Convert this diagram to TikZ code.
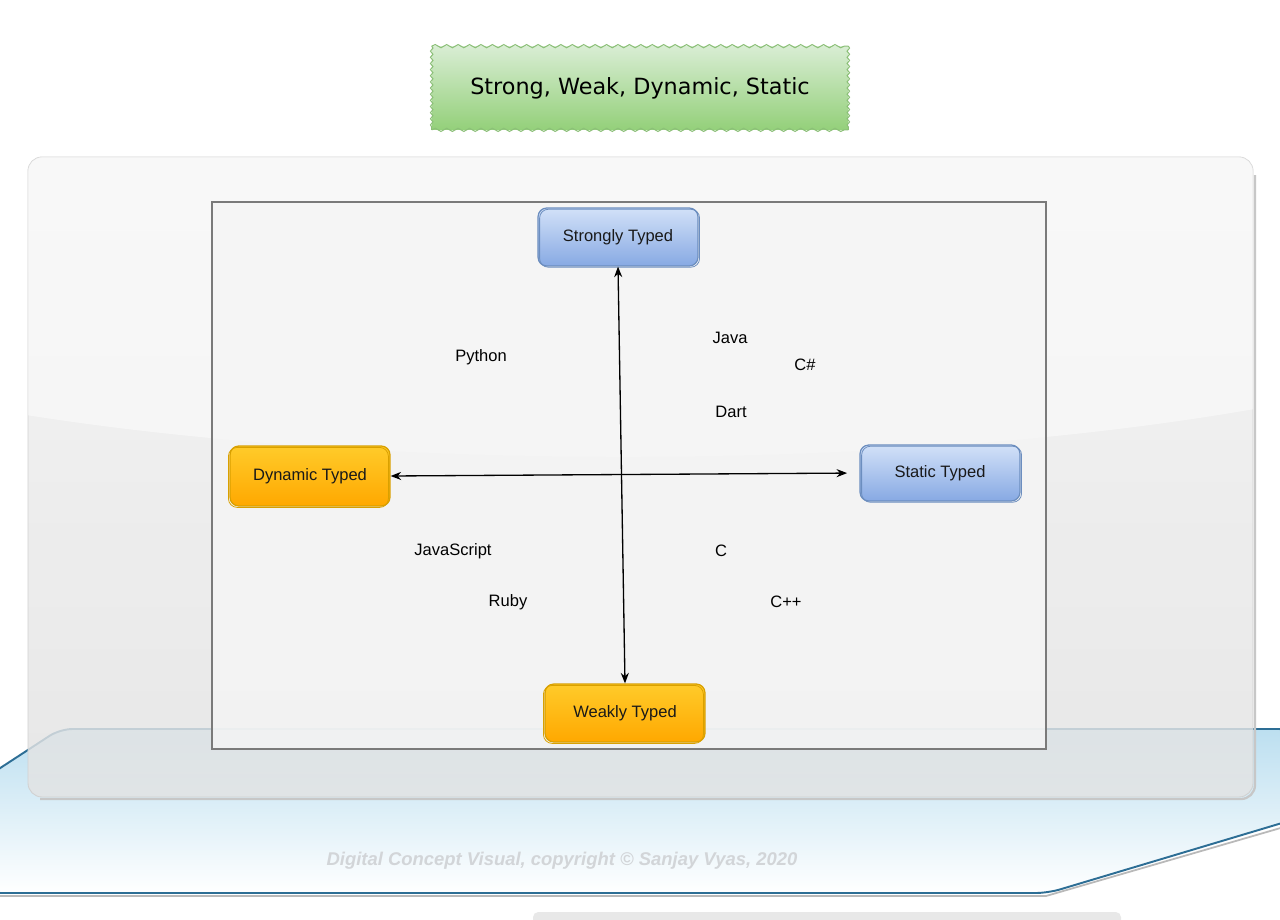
\documentclass[tikz,border=0pt]{standalone}
\usepackage{fontspec}
\setmainfont{Liberation Sans}
\newfontfamily\titlefont{DejaVu Sans}
\usetikzlibrary{arrows.meta,decorations.pathmorphing}
\definecolor{bT}{HTML}{D2E1F8}
\definecolor{bB}{HTML}{87A9E3}
\definecolor{bD}{HTML}{6C8EBF}
\definecolor{oT}{HTML}{FFCB2A}
\definecolor{oB}{HTML}{FFA800}
\definecolor{oD}{HTML}{D9A000}
\definecolor{gT}{HTML}{D8EDD3}
\definecolor{gB}{HTML}{94D07A}
\definecolor{gD}{HTML}{8CC078}
\definecolor{floorT}{HTML}{BCDFF0}
\definecolor{floorD}{HTML}{2D6E95}
\definecolor{copyc}{HTML}{D2D5D8}
\tikzset{
  box/.style={rounded corners=5pt, minimum width=3.2cm, minimum height=1.16cm,
    font=\fontsize{9.4}{11}\selectfont, line width=0.7pt, text=black!90},
  bluebox/.style={box, top color=bT, bottom color=bB, draw=bD,
    postaction={draw=bD, line width=0.45pt, transform canvas={shift={(0.9pt,-0.7pt)}}}},
  orangebox/.style={box, top color=oT, bottom color=oB, draw=oD,
    postaction={draw=oD, line width=0.45pt, transform canvas={shift={(-0.9pt,-0.8pt)}}}},
  lang/.style={font=\fontsize{9.4}{11}\selectfont, text=black},
  axis/.style={line width=0.75pt, {Stealth[length=6pt,width=4.6pt]}-{Stealth[length=6pt,width=4.6pt]}},
  wavyh/.style={draw=gD, line width=0.6pt, decorate, decoration={snake, segment length=6.5pt, amplitude=0.9pt}},
  wavyv/.style={draw=gD, line width=0.6pt, decorate, decoration={snake, segment length=3.5pt, amplitude=0.7pt}},
}
\begin{document}
\begin{tikzpicture}[x=0.02cm,y=-0.02cm]
\useasboundingbox (0,0) rectangle (1280,919);
\fill[white] (0,0) rectangle (1280,919);
% floor
\draw[gray!55, line width=1pt] (0,896) -- (1046,896) -- (1284,827);
\shade[top color=floorT, bottom color=white, draw=floorD, line width=1.1pt, rounded corners=7pt]
  (-12,776) -- (60,729) -- (1292,729) -- (1292,820) -- (1048,893) -- (-12,893) -- cycle;
% panel shadow
\draw[black!22, line width=1.3pt, rounded corners=8pt] (1255,175) -- (1255,799) -- (40,799);
% panel
\shade[top color=black!5, bottom color=black!11, fill opacity=0.82, draw=black!18, line width=0.5pt, rounded corners=8pt]
  (28,157) rectangle (1253,797);
\begin{scope}
\clip[rounded corners=8pt] (28,157) rectangle (1253,797);
\fill[white, opacity=0.45] (20,150) -- (1260,150) -- (1260,408) .. controls (900,472) and (380,472) .. (20,414) -- cycle;
\end{scope}
% inner frame
\filldraw[fill=black!4, fill opacity=0.82, draw=black!52, line width=1.1pt] (212,202) rectangle (1046,749);
% title
\node[top color=gT, bottom color=gB, minimum width=8.32cm, minimum height=1.66cm,
  font=\titlefont\fontsize{12.7}{15}\selectfont] (title) at (640,88) {Strong, Weak, Dynamic, Static};
\draw[wavyh] (title.north west) -- (title.north east);
\draw[wavyh] (title.south west) -- (title.south east);
\draw[wavyv] (title.north west) -- (title.south west);
\draw[wavyv] (title.north east) -- (title.south east);
% boxes
\node[bluebox] (strong) at (618,237) {Strongly Typed};
\node[orangebox, minimum height=1.2cm] (dyn) at (310,476) {Dynamic Typed};
\node[bluebox, minimum height=1.12cm] (stat) at (940,473) {Static Typed};
\node[orangebox] (weak) at (625,713) {Weakly Typed};
% axes
\draw[axis] (strong.south) -- (weak.north);
\draw[axis, shorten >=7pt] (dyn.east) -- (stat.west);
% languages
\node[lang] (py) at (481,357) {Python};
\node[lang] (java) at (730,338) {Java};
\node[lang] (cs) at (805,365) {C\#};
\node[lang] (dart) at (731,412) {Dart};
\node[lang] (js) at (453,551) {JavaScript};
\node[lang] (ruby) at (508,602) {Ruby};
\node[lang] (c) at (721,551) {C};
\node[lang] (cpp) at (786,602) {C++};
% copyright
\node[font=\bfseries\itshape\fontsize{10.5}{12}\selectfont, text=copyc] (copy) at (562,861)
  {Digital Concept Visual, copyright © Sanjay Vyas, 2020};
% bottom bar
\fill[black!9, rounded corners=3pt] (533,925) -- (533,912) -- (1121,912) -- (1121,925) -- cycle;
\end{tikzpicture}
\end{document}
